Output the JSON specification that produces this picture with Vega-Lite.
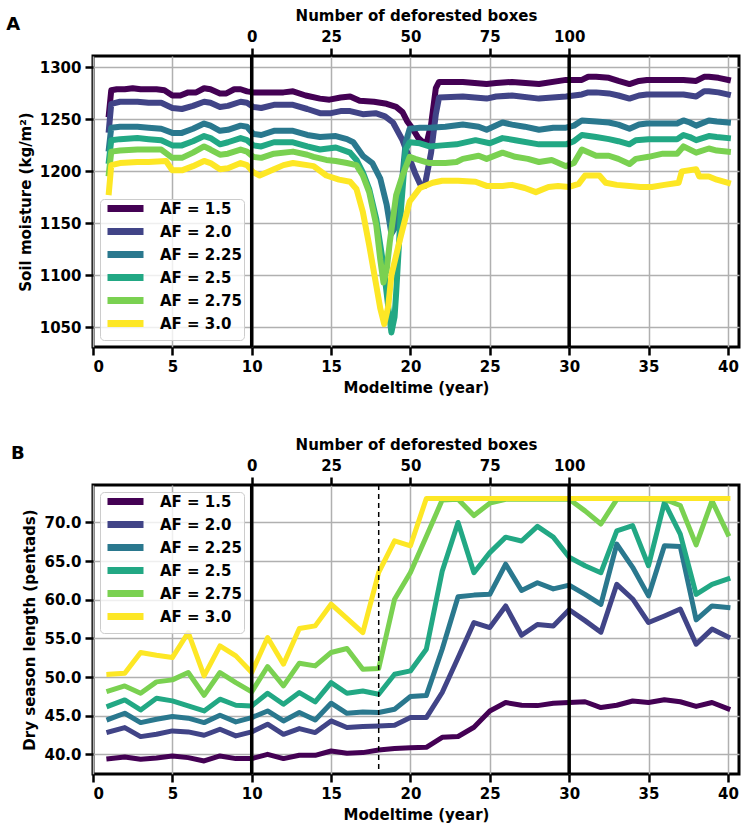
{
"$schema": "https://vega.github.io/schema/vega-lite/v6.json",
"background": "white",
"padding": {"left": 4, "top": 6, "right": 2, "bottom": 2},
"spacing": 38,
"config": {
  "font": "DejaVu Sans",
  "view": {"stroke": "black", "strokeWidth": 3},
  "axis": {"labelFont": "DejaVu Sans", "labelFontWeight": "bold", "labelFontSize": 15, "labelColor": "black",
           "titleFont": "DejaVu Sans", "titleFontWeight": "bold", "titleFontSize": 15, "titleColor": "black",
           "tickColor": "black", "tickWidth": 2.5, "tickSize": 8, "domain": false,
           "gridColor": "#b0b0b0", "gridWidth": 1.5, "labelPadding": 4, "titlePadding": 6},
  "title": {"font": "DejaVu Sans", "fontWeight": "bold", "fontSize": 18, "color": "black"}
},
"datasets": {
"soil": [
{"AF":"AF = 1.5","t":1.0,"v":1255},{"AF":"AF = 1.5","t":1.15,"v":1278},{"AF":"AF = 1.5","t":1.5,"v":1279},{"AF":"AF = 1.5","t":2.0,"v":1279},{"AF":"AF = 1.5","t":2.5,"v":1280},{"AF":"AF = 1.5","t":3.0,"v":1279},{"AF":"AF = 1.5","t":3.5,"v":1279},{"AF":"AF = 1.5","t":4.0,"v":1279},{"AF":"AF = 1.5","t":4.5,"v":1278},{"AF":"AF = 1.5","t":5.0,"v":1273},{"AF":"AF = 1.5","t":5.5,"v":1273},{"AF":"AF = 1.5","t":6.0,"v":1276},{"AF":"AF = 1.5","t":6.5,"v":1276},{"AF":"AF = 1.5","t":7.0,"v":1280},{"AF":"AF = 1.5","t":7.4,"v":1279},{"AF":"AF = 1.5","t":8.0,"v":1275},{"AF":"AF = 1.5","t":8.4,"v":1275},{"AF":"AF = 1.5","t":8.9,"v":1279},{"AF":"AF = 1.5","t":9.3,"v":1279},{"AF":"AF = 1.5","t":9.7,"v":1277},{"AF":"AF = 1.5","t":10.1,"v":1276},{"AF":"AF = 1.5","t":11.0,"v":1276},{"AF":"AF = 1.5","t":12.0,"v":1276},{"AF":"AF = 1.5","t":12.6,"v":1277},{"AF":"AF = 1.5","t":13.4,"v":1273},{"AF":"AF = 1.5","t":14.3,"v":1270},{"AF":"AF = 1.5","t":14.9,"v":1269},{"AF":"AF = 1.5","t":15.6,"v":1271},{"AF":"AF = 1.5","t":16.2,"v":1272},{"AF":"AF = 1.5","t":16.8,"v":1268},{"AF":"AF = 1.5","t":17.7,"v":1267},{"AF":"AF = 1.5","t":18.5,"v":1265},{"AF":"AF = 1.5","t":19.1,"v":1262},{"AF":"AF = 1.5","t":19.5,"v":1257},{"AF":"AF = 1.5","t":19.8,"v":1248},{"AF":"AF = 1.5","t":20.1,"v":1242},{"AF":"AF = 1.5","t":20.5,"v":1232},{"AF":"AF = 1.5","t":20.8,"v":1228},{"AF":"AF = 1.5","t":21.0,"v":1226},{"AF":"AF = 1.5","t":21.3,"v":1245},{"AF":"AF = 1.5","t":21.6,"v":1280},{"AF":"AF = 1.5","t":21.8,"v":1286},{"AF":"AF = 1.5","t":23.3,"v":1286},{"AF":"AF = 1.5","t":24.8,"v":1284},{"AF":"AF = 1.5","t":25.4,"v":1285},{"AF":"AF = 1.5","t":26.4,"v":1286},{"AF":"AF = 1.5","t":28.1,"v":1284},{"AF":"AF = 1.5","t":29.8,"v":1288},{"AF":"AF = 1.5","t":30.8,"v":1288},{"AF":"AF = 1.5","t":31.2,"v":1291},{"AF":"AF = 1.5","t":31.7,"v":1291},{"AF":"AF = 1.5","t":32.5,"v":1290},{"AF":"AF = 1.5","t":33.1,"v":1287},{"AF":"AF = 1.5","t":33.8,"v":1284},{"AF":"AF = 1.5","t":34.4,"v":1287},{"AF":"AF = 1.5","t":34.9,"v":1288},{"AF":"AF = 1.5","t":35.9,"v":1288},{"AF":"AF = 1.5","t":37.2,"v":1288},{"AF":"AF = 1.5","t":38.0,"v":1287},{"AF":"AF = 1.5","t":38.5,"v":1291},{"AF":"AF = 1.5","t":38.8,"v":1291},{"AF":"AF = 1.5","t":39.4,"v":1290},{"AF":"AF = 1.5","t":40.0,"v":1288},
{"AF":"AF = 2.0","t":1.0,"v":1240},{"AF":"AF = 2.0","t":1.15,"v":1265},{"AF":"AF = 2.0","t":1.7,"v":1267},{"AF":"AF = 2.0","t":2.8,"v":1267},{"AF":"AF = 2.0","t":3.5,"v":1266},{"AF":"AF = 2.0","t":4.3,"v":1266},{"AF":"AF = 2.0","t":5.0,"v":1261},{"AF":"AF = 2.0","t":5.6,"v":1260},{"AF":"AF = 2.0","t":6.3,"v":1263},{"AF":"AF = 2.0","t":7.0,"v":1267},{"AF":"AF = 2.0","t":7.4,"v":1266},{"AF":"AF = 2.0","t":8.0,"v":1262},{"AF":"AF = 2.0","t":8.5,"v":1263},{"AF":"AF = 2.0","t":9.3,"v":1267},{"AF":"AF = 2.0","t":9.7,"v":1266},{"AF":"AF = 2.0","t":10.1,"v":1262},{"AF":"AF = 2.0","t":10.6,"v":1261},{"AF":"AF = 2.0","t":11.4,"v":1264},{"AF":"AF = 2.0","t":12.6,"v":1264},{"AF":"AF = 2.0","t":13.5,"v":1260},{"AF":"AF = 2.0","t":14.3,"v":1256},{"AF":"AF = 2.0","t":15.0,"v":1256},{"AF":"AF = 2.0","t":15.6,"v":1258},{"AF":"AF = 2.0","t":16.2,"v":1258},{"AF":"AF = 2.0","t":17.0,"v":1255},{"AF":"AF = 2.0","t":17.8,"v":1256},{"AF":"AF = 2.0","t":18.4,"v":1253},{"AF":"AF = 2.0","t":18.9,"v":1247},{"AF":"AF = 2.0","t":19.5,"v":1230},{"AF":"AF = 2.0","t":19.95,"v":1212},{"AF":"AF = 2.0","t":20.3,"v":1198},{"AF":"AF = 2.0","t":20.6,"v":1188},{"AF":"AF = 2.0","t":20.9,"v":1186},{"AF":"AF = 2.0","t":21.3,"v":1218},{"AF":"AF = 2.0","t":21.6,"v":1255},{"AF":"AF = 2.0","t":21.8,"v":1271},{"AF":"AF = 2.0","t":23.3,"v":1272},{"AF":"AF = 2.0","t":24.8,"v":1270},{"AF":"AF = 2.0","t":25.4,"v":1272},{"AF":"AF = 2.0","t":26.4,"v":1273},{"AF":"AF = 2.0","t":28.1,"v":1270},{"AF":"AF = 2.0","t":29.8,"v":1272},{"AF":"AF = 2.0","t":30.8,"v":1274},{"AF":"AF = 2.0","t":31.2,"v":1276},{"AF":"AF = 2.0","t":31.7,"v":1276},{"AF":"AF = 2.0","t":32.5,"v":1275},{"AF":"AF = 2.0","t":33.1,"v":1273},{"AF":"AF = 2.0","t":33.8,"v":1270},{"AF":"AF = 2.0","t":34.4,"v":1273},{"AF":"AF = 2.0","t":34.9,"v":1274},{"AF":"AF = 2.0","t":35.9,"v":1274},{"AF":"AF = 2.0","t":37.2,"v":1274},{"AF":"AF = 2.0","t":38.0,"v":1272},{"AF":"AF = 2.0","t":38.5,"v":1277},{"AF":"AF = 2.0","t":38.8,"v":1277},{"AF":"AF = 2.0","t":39.4,"v":1276},{"AF":"AF = 2.0","t":40.0,"v":1274},
{"AF":"AF = 2.25","t":1.0,"v":1222},{"AF":"AF = 2.25","t":1.15,"v":1242},{"AF":"AF = 2.25","t":1.7,"v":1243},{"AF":"AF = 2.25","t":2.8,"v":1243},{"AF":"AF = 2.25","t":3.5,"v":1242},{"AF":"AF = 2.25","t":4.3,"v":1241},{"AF":"AF = 2.25","t":5.0,"v":1237},{"AF":"AF = 2.25","t":5.6,"v":1237},{"AF":"AF = 2.25","t":6.3,"v":1241},{"AF":"AF = 2.25","t":7.0,"v":1246},{"AF":"AF = 2.25","t":7.4,"v":1244},{"AF":"AF = 2.25","t":8.0,"v":1239},{"AF":"AF = 2.25","t":8.5,"v":1240},{"AF":"AF = 2.25","t":9.3,"v":1244},{"AF":"AF = 2.25","t":9.7,"v":1243},{"AF":"AF = 2.25","t":10.1,"v":1236},{"AF":"AF = 2.25","t":10.6,"v":1235},{"AF":"AF = 2.25","t":11.4,"v":1239},{"AF":"AF = 2.25","t":12.6,"v":1239},{"AF":"AF = 2.25","t":13.5,"v":1235},{"AF":"AF = 2.25","t":14.3,"v":1233},{"AF":"AF = 2.25","t":15.3,"v":1234},{"AF":"AF = 2.25","t":16.0,"v":1231},{"AF":"AF = 2.25","t":16.4,"v":1228},{"AF":"AF = 2.25","t":17.0,"v":1215},{"AF":"AF = 2.25","t":17.6,"v":1208},{"AF":"AF = 2.25","t":18.1,"v":1193},{"AF":"AF = 2.25","t":18.5,"v":1168},{"AF":"AF = 2.25","t":18.8,"v":1140},{"AF":"AF = 2.25","t":19.0,"v":1145},{"AF":"AF = 2.25","t":19.3,"v":1163},{"AF":"AF = 2.25","t":19.7,"v":1228},{"AF":"AF = 2.25","t":19.95,"v":1241},{"AF":"AF = 2.25","t":20.6,"v":1242},{"AF":"AF = 2.25","t":21.2,"v":1242},{"AF":"AF = 2.25","t":22.2,"v":1243},{"AF":"AF = 2.25","t":23.3,"v":1245},{"AF":"AF = 2.25","t":24.3,"v":1243},{"AF":"AF = 2.25","t":24.8,"v":1240},{"AF":"AF = 2.25","t":25.8,"v":1247},{"AF":"AF = 2.25","t":26.4,"v":1245},{"AF":"AF = 2.25","t":27.2,"v":1243},{"AF":"AF = 2.25","t":28.1,"v":1240},{"AF":"AF = 2.25","t":29.0,"v":1242},{"AF":"AF = 2.25","t":29.8,"v":1242},{"AF":"AF = 2.25","t":30.3,"v":1244},{"AF":"AF = 2.25","t":30.8,"v":1249},{"AF":"AF = 2.25","t":31.7,"v":1248},{"AF":"AF = 2.25","t":32.5,"v":1247},{"AF":"AF = 2.25","t":33.1,"v":1245},{"AF":"AF = 2.25","t":33.8,"v":1241},{"AF":"AF = 2.25","t":34.4,"v":1245},{"AF":"AF = 2.25","t":34.9,"v":1246},{"AF":"AF = 2.25","t":35.9,"v":1246},{"AF":"AF = 2.25","t":36.8,"v":1246},{"AF":"AF = 2.25","t":37.2,"v":1249},{"AF":"AF = 2.25","t":37.6,"v":1247},{"AF":"AF = 2.25","t":38.0,"v":1244},{"AF":"AF = 2.25","t":38.8,"v":1249},{"AF":"AF = 2.25","t":39.3,"v":1248},{"AF":"AF = 2.25","t":40.0,"v":1247},
{"AF":"AF = 2.5","t":1.0,"v":1210},{"AF":"AF = 2.5","t":1.15,"v":1230},{"AF":"AF = 2.5","t":1.7,"v":1231},{"AF":"AF = 2.5","t":2.8,"v":1232},{"AF":"AF = 2.5","t":3.5,"v":1231},{"AF":"AF = 2.5","t":4.3,"v":1230},{"AF":"AF = 2.5","t":5.0,"v":1225},{"AF":"AF = 2.5","t":5.6,"v":1225},{"AF":"AF = 2.5","t":6.3,"v":1229},{"AF":"AF = 2.5","t":7.0,"v":1234},{"AF":"AF = 2.5","t":7.4,"v":1232},{"AF":"AF = 2.5","t":8.0,"v":1226},{"AF":"AF = 2.5","t":8.5,"v":1228},{"AF":"AF = 2.5","t":9.3,"v":1232},{"AF":"AF = 2.5","t":9.7,"v":1230},{"AF":"AF = 2.5","t":10.1,"v":1225},{"AF":"AF = 2.5","t":10.6,"v":1224},{"AF":"AF = 2.5","t":11.4,"v":1228},{"AF":"AF = 2.5","t":12.6,"v":1228},{"AF":"AF = 2.5","t":13.5,"v":1224},{"AF":"AF = 2.5","t":14.3,"v":1221},{"AF":"AF = 2.5","t":15.3,"v":1223},{"AF":"AF = 2.5","t":16.2,"v":1218},{"AF":"AF = 2.5","t":16.6,"v":1211},{"AF":"AF = 2.5","t":17.0,"v":1199},{"AF":"AF = 2.5","t":17.4,"v":1183},{"AF":"AF = 2.5","t":17.85,"v":1154},{"AF":"AF = 2.5","t":18.3,"v":1109},{"AF":"AF = 2.5","t":18.6,"v":1070},{"AF":"AF = 2.5","t":18.8,"v":1045},{"AF":"AF = 2.5","t":19.0,"v":1060},{"AF":"AF = 2.5","t":19.1,"v":1083},{"AF":"AF = 2.5","t":19.4,"v":1163},{"AF":"AF = 2.5","t":19.7,"v":1221},{"AF":"AF = 2.5","t":19.95,"v":1228},{"AF":"AF = 2.5","t":20.6,"v":1227},{"AF":"AF = 2.5","t":21.2,"v":1224},{"AF":"AF = 2.5","t":22.0,"v":1225},{"AF":"AF = 2.5","t":22.9,"v":1226},{"AF":"AF = 2.5","t":24.1,"v":1230},{"AF":"AF = 2.5","t":25.0,"v":1227},{"AF":"AF = 2.5","t":25.8,"v":1232},{"AF":"AF = 2.5","t":26.6,"v":1230},{"AF":"AF = 2.5","t":28.1,"v":1226},{"AF":"AF = 2.5","t":29.8,"v":1226},{"AF":"AF = 2.5","t":30.3,"v":1229},{"AF":"AF = 2.5","t":30.8,"v":1235},{"AF":"AF = 2.5","t":31.7,"v":1233},{"AF":"AF = 2.5","t":32.5,"v":1231},{"AF":"AF = 2.5","t":33.1,"v":1229},{"AF":"AF = 2.5","t":33.8,"v":1226},{"AF":"AF = 2.5","t":34.2,"v":1230},{"AF":"AF = 2.5","t":35.0,"v":1231},{"AF":"AF = 2.5","t":35.9,"v":1231},{"AF":"AF = 2.5","t":36.8,"v":1231},{"AF":"AF = 2.5","t":37.2,"v":1235},{"AF":"AF = 2.5","t":37.6,"v":1233},{"AF":"AF = 2.5","t":38.0,"v":1230},{"AF":"AF = 2.5","t":38.8,"v":1234},{"AF":"AF = 2.5","t":39.3,"v":1233},{"AF":"AF = 2.5","t":40.0,"v":1232},
{"AF":"AF = 2.75","t":1.0,"v":1198},{"AF":"AF = 2.75","t":1.15,"v":1219},{"AF":"AF = 2.75","t":1.7,"v":1220},{"AF":"AF = 2.75","t":2.8,"v":1221},{"AF":"AF = 2.75","t":3.5,"v":1221},{"AF":"AF = 2.75","t":4.3,"v":1221},{"AF":"AF = 2.75","t":5.0,"v":1213},{"AF":"AF = 2.75","t":5.6,"v":1213},{"AF":"AF = 2.75","t":6.3,"v":1218},{"AF":"AF = 2.75","t":7.0,"v":1224},{"AF":"AF = 2.75","t":7.4,"v":1221},{"AF":"AF = 2.75","t":8.0,"v":1216},{"AF":"AF = 2.75","t":8.5,"v":1217},{"AF":"AF = 2.75","t":9.3,"v":1221},{"AF":"AF = 2.75","t":9.7,"v":1219},{"AF":"AF = 2.75","t":10.1,"v":1214},{"AF":"AF = 2.75","t":10.6,"v":1213},{"AF":"AF = 2.75","t":11.4,"v":1217},{"AF":"AF = 2.75","t":12.6,"v":1219},{"AF":"AF = 2.75","t":13.5,"v":1216},{"AF":"AF = 2.75","t":13.9,"v":1214},{"AF":"AF = 2.75","t":14.7,"v":1211},{"AF":"AF = 2.75","t":15.3,"v":1210},{"AF":"AF = 2.75","t":16.0,"v":1208},{"AF":"AF = 2.75","t":16.6,"v":1206},{"AF":"AF = 2.75","t":17.0,"v":1196},{"AF":"AF = 2.75","t":17.4,"v":1180},{"AF":"AF = 2.75","t":17.85,"v":1148},{"AF":"AF = 2.75","t":18.1,"v":1115},{"AF":"AF = 2.75","t":18.3,"v":1093},{"AF":"AF = 2.75","t":18.5,"v":1105},{"AF":"AF = 2.75","t":18.7,"v":1132},{"AF":"AF = 2.75","t":19.1,"v":1177},{"AF":"AF = 2.75","t":19.5,"v":1196},{"AF":"AF = 2.75","t":19.95,"v":1214},{"AF":"AF = 2.75","t":20.3,"v":1212},{"AF":"AF = 2.75","t":21.2,"v":1208},{"AF":"AF = 2.75","t":22.2,"v":1208},{"AF":"AF = 2.75","t":22.9,"v":1209},{"AF":"AF = 2.75","t":23.3,"v":1212},{"AF":"AF = 2.75","t":24.3,"v":1215},{"AF":"AF = 2.75","t":24.8,"v":1212},{"AF":"AF = 2.75","t":25.8,"v":1218},{"AF":"AF = 2.75","t":26.6,"v":1214},{"AF":"AF = 2.75","t":27.4,"v":1212},{"AF":"AF = 2.75","t":28.1,"v":1209},{"AF":"AF = 2.75","t":28.9,"v":1211},{"AF":"AF = 2.75","t":29.8,"v":1205},{"AF":"AF = 2.75","t":30.3,"v":1208},{"AF":"AF = 2.75","t":30.8,"v":1221},{"AF":"AF = 2.75","t":31.7,"v":1215},{"AF":"AF = 2.75","t":32.5,"v":1215},{"AF":"AF = 2.75","t":33.1,"v":1212},{"AF":"AF = 2.75","t":33.8,"v":1207},{"AF":"AF = 2.75","t":34.2,"v":1212},{"AF":"AF = 2.75","t":35.0,"v":1214},{"AF":"AF = 2.75","t":35.9,"v":1217},{"AF":"AF = 2.75","t":36.8,"v":1217},{"AF":"AF = 2.75","t":37.2,"v":1224},{"AF":"AF = 2.75","t":38.0,"v":1218},{"AF":"AF = 2.75","t":38.8,"v":1222},{"AF":"AF = 2.75","t":39.3,"v":1220},{"AF":"AF = 2.75","t":40.0,"v":1219},
{"AF":"AF = 3.0","t":1.0,"v":1180},{"AF":"AF = 3.0","t":1.15,"v":1206},{"AF":"AF = 3.0","t":1.7,"v":1208},{"AF":"AF = 3.0","t":2.8,"v":1209},{"AF":"AF = 3.0","t":3.5,"v":1209},{"AF":"AF = 3.0","t":4.6,"v":1210},{"AF":"AF = 3.0","t":5.0,"v":1201},{"AF":"AF = 3.0","t":5.6,"v":1201},{"AF":"AF = 3.0","t":6.3,"v":1205},{"AF":"AF = 3.0","t":7.0,"v":1210},{"AF":"AF = 3.0","t":7.4,"v":1208},{"AF":"AF = 3.0","t":8.0,"v":1202},{"AF":"AF = 3.0","t":8.5,"v":1203},{"AF":"AF = 3.0","t":9.3,"v":1208},{"AF":"AF = 3.0","t":9.7,"v":1206},{"AF":"AF = 3.0","t":10.1,"v":1199},{"AF":"AF = 3.0","t":10.5,"v":1196},{"AF":"AF = 3.0","t":11.4,"v":1202},{"AF":"AF = 3.0","t":12.0,"v":1206},{"AF":"AF = 3.0","t":12.6,"v":1208},{"AF":"AF = 3.0","t":13.5,"v":1206},{"AF":"AF = 3.0","t":13.9,"v":1205},{"AF":"AF = 3.0","t":14.7,"v":1196},{"AF":"AF = 3.0","t":15.5,"v":1192},{"AF":"AF = 3.0","t":16.2,"v":1190},{"AF":"AF = 3.0","t":16.6,"v":1183},{"AF":"AF = 3.0","t":17.0,"v":1161},{"AF":"AF = 3.0","t":17.4,"v":1129},{"AF":"AF = 3.0","t":17.85,"v":1090},{"AF":"AF = 3.0","t":18.1,"v":1068},{"AF":"AF = 3.0","t":18.35,"v":1053},{"AF":"AF = 3.0","t":18.6,"v":1070},{"AF":"AF = 3.0","t":18.8,"v":1100},{"AF":"AF = 3.0","t":19.3,"v":1132},{"AF":"AF = 3.0","t":19.95,"v":1171},{"AF":"AF = 3.0","t":20.6,"v":1184},{"AF":"AF = 3.0","t":21.4,"v":1189},{"AF":"AF = 3.0","t":22.0,"v":1191},{"AF":"AF = 3.0","t":23.0,"v":1191},{"AF":"AF = 3.0","t":24.1,"v":1190},{"AF":"AF = 3.0","t":24.8,"v":1186},{"AF":"AF = 3.0","t":25.8,"v":1186},{"AF":"AF = 3.0","t":26.4,"v":1187},{"AF":"AF = 3.0","t":27.2,"v":1184},{"AF":"AF = 3.0","t":27.9,"v":1180},{"AF":"AF = 3.0","t":28.7,"v":1185},{"AF":"AF = 3.0","t":29.3,"v":1186},{"AF":"AF = 3.0","t":30.0,"v":1185},{"AF":"AF = 3.0","t":30.6,"v":1188},{"AF":"AF = 3.0","t":31.0,"v":1196},{"AF":"AF = 3.0","t":31.9,"v":1196},{"AF":"AF = 3.0","t":32.3,"v":1189},{"AF":"AF = 3.0","t":33.0,"v":1187},{"AF":"AF = 3.0","t":33.8,"v":1186},{"AF":"AF = 3.0","t":34.5,"v":1185},{"AF":"AF = 3.0","t":35.2,"v":1185},{"AF":"AF = 3.0","t":36.0,"v":1187},{"AF":"AF = 3.0","t":36.9,"v":1189},{"AF":"AF = 3.0","t":37.1,"v":1200},{"AF":"AF = 3.0","t":38.0,"v":1202},{"AF":"AF = 3.0","t":38.2,"v":1195},{"AF":"AF = 3.0","t":38.8,"v":1195},{"AF":"AF = 3.0","t":39.3,"v":1192},{"AF":"AF = 3.0","t":40.0,"v":1189}
],
"dry": [
{"AF":"AF = 1.5","t":1,"v":39.44},{"AF":"AF = 1.5","t":2,"v":39.66},{"AF":"AF = 1.5","t":3,"v":39.36},{"AF":"AF = 1.5","t":4,"v":39.53},{"AF":"AF = 1.5","t":5,"v":39.79},{"AF":"AF = 1.5","t":6,"v":39.57},{"AF":"AF = 1.5","t":7,"v":39.14},{"AF":"AF = 1.5","t":8,"v":39.79},{"AF":"AF = 1.5","t":9,"v":39.44},{"AF":"AF = 1.5","t":10,"v":39.44},{"AF":"AF = 1.5","t":11,"v":40.0},{"AF":"AF = 1.5","t":12,"v":39.44},{"AF":"AF = 1.5","t":13,"v":39.87},{"AF":"AF = 1.5","t":14,"v":39.87},{"AF":"AF = 1.5","t":15,"v":40.43},{"AF":"AF = 1.5","t":16,"v":40.13},{"AF":"AF = 1.5","t":17,"v":40.22},{"AF":"AF = 1.5","t":18,"v":40.56},{"AF":"AF = 1.5","t":19,"v":40.74},{"AF":"AF = 1.5","t":20,"v":40.85},{"AF":"AF = 1.5","t":21,"v":40.9},{"AF":"AF = 1.5","t":22,"v":42.2},{"AF":"AF = 1.5","t":23,"v":42.3},{"AF":"AF = 1.5","t":24,"v":43.5},{"AF":"AF = 1.5","t":25,"v":45.6},{"AF":"AF = 1.5","t":26,"v":46.7},{"AF":"AF = 1.5","t":27,"v":46.35},{"AF":"AF = 1.5","t":28,"v":46.3},{"AF":"AF = 1.5","t":29,"v":46.6},{"AF":"AF = 1.5","t":30,"v":46.7},{"AF":"AF = 1.5","t":31,"v":46.8},{"AF":"AF = 1.5","t":32,"v":46.05},{"AF":"AF = 1.5","t":33,"v":46.35},{"AF":"AF = 1.5","t":34,"v":46.9},{"AF":"AF = 1.5","t":35,"v":46.7},{"AF":"AF = 1.5","t":36,"v":47.05},{"AF":"AF = 1.5","t":37,"v":46.8},{"AF":"AF = 1.5","t":38,"v":46.2},{"AF":"AF = 1.5","t":39,"v":46.7},{"AF":"AF = 1.5","t":40,"v":45.9},
{"AF":"AF = 2.0","t":1,"v":42.9},{"AF":"AF = 2.0","t":2,"v":43.46},{"AF":"AF = 2.0","t":3,"v":42.29},{"AF":"AF = 2.0","t":4,"v":42.59},{"AF":"AF = 2.0","t":5,"v":43.03},{"AF":"AF = 2.0","t":6,"v":42.9},{"AF":"AF = 2.0","t":7,"v":42.46},{"AF":"AF = 2.0","t":8,"v":43.24},{"AF":"AF = 2.0","t":9,"v":42.38},{"AF":"AF = 2.0","t":10,"v":42.9},{"AF":"AF = 2.0","t":11,"v":43.89},{"AF":"AF = 2.0","t":12,"v":42.59},{"AF":"AF = 2.0","t":13,"v":43.33},{"AF":"AF = 2.0","t":14,"v":42.81},{"AF":"AF = 2.0","t":15,"v":44.32},{"AF":"AF = 2.0","t":16,"v":43.46},{"AF":"AF = 2.0","t":17,"v":43.59},{"AF":"AF = 2.0","t":18,"v":43.67},{"AF":"AF = 2.0","t":19,"v":43.76},{"AF":"AF = 2.0","t":20,"v":44.75},{"AF":"AF = 2.0","t":21,"v":44.75},{"AF":"AF = 2.0","t":22,"v":48.0},{"AF":"AF = 2.0","t":23,"v":52.5},{"AF":"AF = 2.0","t":24,"v":57.05},{"AF":"AF = 2.0","t":25,"v":56.4},{"AF":"AF = 2.0","t":26,"v":59.2},{"AF":"AF = 2.0","t":27,"v":55.4},{"AF":"AF = 2.0","t":28,"v":56.8},{"AF":"AF = 2.0","t":29,"v":56.6},{"AF":"AF = 2.0","t":30,"v":58.7},{"AF":"AF = 2.0","t":31,"v":57.3},{"AF":"AF = 2.0","t":32,"v":55.8},{"AF":"AF = 2.0","t":33,"v":62.0},{"AF":"AF = 2.0","t":34,"v":60.1},{"AF":"AF = 2.0","t":35,"v":57.05},{"AF":"AF = 2.0","t":36,"v":57.9},{"AF":"AF = 2.0","t":37,"v":58.8},{"AF":"AF = 2.0","t":38,"v":54.25},{"AF":"AF = 2.0","t":39,"v":56.2},{"AF":"AF = 2.0","t":40,"v":55.2},
{"AF":"AF = 2.25","t":1,"v":44.54},{"AF":"AF = 2.25","t":2,"v":45.31},{"AF":"AF = 2.25","t":3,"v":44.1},{"AF":"AF = 2.25","t":4,"v":44.54},{"AF":"AF = 2.25","t":5,"v":44.88},{"AF":"AF = 2.25","t":6,"v":44.67},{"AF":"AF = 2.25","t":7,"v":44.1},{"AF":"AF = 2.25","t":8,"v":45.05},{"AF":"AF = 2.25","t":9,"v":44.19},{"AF":"AF = 2.25","t":10,"v":44.75},{"AF":"AF = 2.25","t":11,"v":45.61},{"AF":"AF = 2.25","t":12,"v":44.32},{"AF":"AF = 2.25","t":13,"v":45.4},{"AF":"AF = 2.25","t":14,"v":44.45},{"AF":"AF = 2.25","t":15,"v":46.61},{"AF":"AF = 2.25","t":16,"v":45.31},{"AF":"AF = 2.25","t":17,"v":45.48},{"AF":"AF = 2.25","t":18,"v":45.4},{"AF":"AF = 2.25","t":19,"v":45.83},{"AF":"AF = 2.25","t":20,"v":47.47},{"AF":"AF = 2.25","t":21,"v":47.6},{"AF":"AF = 2.25","t":22,"v":53.6},{"AF":"AF = 2.25","t":23,"v":60.4},{"AF":"AF = 2.25","t":24,"v":60.6},{"AF":"AF = 2.25","t":25,"v":60.7},{"AF":"AF = 2.25","t":26,"v":64.6},{"AF":"AF = 2.25","t":27,"v":61.2},{"AF":"AF = 2.25","t":28,"v":62.2},{"AF":"AF = 2.25","t":29,"v":61.4},{"AF":"AF = 2.25","t":30,"v":61.9},{"AF":"AF = 2.25","t":31,"v":60.7},{"AF":"AF = 2.25","t":32,"v":59.4},{"AF":"AF = 2.25","t":33,"v":67.2},{"AF":"AF = 2.25","t":34,"v":64.2},{"AF":"AF = 2.25","t":35,"v":60.5},{"AF":"AF = 2.25","t":36,"v":67.0},{"AF":"AF = 2.25","t":37,"v":66.9},{"AF":"AF = 2.25","t":38,"v":57.4},{"AF":"AF = 2.25","t":39,"v":59.2},{"AF":"AF = 2.25","t":40,"v":59.0},
{"AF":"AF = 2.5","t":1,"v":46.26},{"AF":"AF = 2.5","t":2,"v":47.04},{"AF":"AF = 2.5","t":3,"v":45.74},{"AF":"AF = 2.5","t":4,"v":47.25},{"AF":"AF = 2.5","t":5,"v":46.91},{"AF":"AF = 2.5","t":6,"v":46.26},{"AF":"AF = 2.5","t":7,"v":45.61},{"AF":"AF = 2.5","t":8,"v":47.13},{"AF":"AF = 2.5","t":9,"v":46.35},{"AF":"AF = 2.5","t":10,"v":46.26},{"AF":"AF = 2.5","t":11,"v":47.9},{"AF":"AF = 2.5","t":12,"v":46.48},{"AF":"AF = 2.5","t":13,"v":47.99},{"AF":"AF = 2.5","t":14,"v":46.78},{"AF":"AF = 2.5","t":15,"v":49.28},{"AF":"AF = 2.5","t":16,"v":47.9},{"AF":"AF = 2.5","t":17,"v":48.2},{"AF":"AF = 2.5","t":18,"v":47.77},{"AF":"AF = 2.5","t":19,"v":50.36},{"AF":"AF = 2.5","t":20,"v":50.79},{"AF":"AF = 2.5","t":21,"v":53.6},{"AF":"AF = 2.5","t":22,"v":63.7},{"AF":"AF = 2.5","t":23,"v":70.0},{"AF":"AF = 2.5","t":24,"v":63.5},{"AF":"AF = 2.5","t":25,"v":66.1},{"AF":"AF = 2.5","t":26,"v":68.1},{"AF":"AF = 2.5","t":27,"v":67.6},{"AF":"AF = 2.5","t":28,"v":69.5},{"AF":"AF = 2.5","t":29,"v":68.1},{"AF":"AF = 2.5","t":30,"v":65.5},{"AF":"AF = 2.5","t":31,"v":64.4},{"AF":"AF = 2.5","t":32,"v":63.5},{"AF":"AF = 2.5","t":33,"v":68.9},{"AF":"AF = 2.5","t":34,"v":69.6},{"AF":"AF = 2.5","t":35,"v":64.4},{"AF":"AF = 2.5","t":36,"v":72.6},{"AF":"AF = 2.5","t":37,"v":68.5},{"AF":"AF = 2.5","t":38,"v":60.7},{"AF":"AF = 2.5","t":39,"v":62.0},{"AF":"AF = 2.5","t":40,"v":62.7},
{"AF":"AF = 2.75","t":1,"v":48.2},{"AF":"AF = 2.75","t":2,"v":48.85},{"AF":"AF = 2.75","t":3,"v":47.9},{"AF":"AF = 2.75","t":4,"v":49.37},{"AF":"AF = 2.75","t":5,"v":49.63},{"AF":"AF = 2.75","t":6,"v":50.58},{"AF":"AF = 2.75","t":7,"v":47.64},{"AF":"AF = 2.75","t":8,"v":50.58},{"AF":"AF = 2.75","t":9,"v":49.28},{"AF":"AF = 2.75","t":10,"v":48.07},{"AF":"AF = 2.75","t":11,"v":51.36},{"AF":"AF = 2.75","t":12,"v":48.85},{"AF":"AF = 2.75","t":13,"v":51.79},{"AF":"AF = 2.75","t":14,"v":51.44},{"AF":"AF = 2.75","t":15,"v":53.17},{"AF":"AF = 2.75","t":16,"v":53.69},{"AF":"AF = 2.75","t":17,"v":51.01},{"AF":"AF = 2.75","t":18,"v":51.1},{"AF":"AF = 2.75","t":19,"v":60.07},{"AF":"AF = 2.75","t":20,"v":63.53},{"AF":"AF = 2.75","t":21,"v":68.2},{"AF":"AF = 2.75","t":22,"v":72.9},{"AF":"AF = 2.75","t":23,"v":73.0},{"AF":"AF = 2.75","t":24,"v":70.9},{"AF":"AF = 2.75","t":25,"v":72.5},{"AF":"AF = 2.75","t":26,"v":73.0},{"AF":"AF = 2.75","t":27,"v":73.0},{"AF":"AF = 2.75","t":28,"v":73.0},{"AF":"AF = 2.75","t":29,"v":73.0},{"AF":"AF = 2.75","t":30,"v":73.0},{"AF":"AF = 2.75","t":31,"v":71.5},{"AF":"AF = 2.75","t":32,"v":69.8},{"AF":"AF = 2.75","t":33,"v":73.0},{"AF":"AF = 2.75","t":34,"v":73.0},{"AF":"AF = 2.75","t":35,"v":73.0},{"AF":"AF = 2.75","t":36,"v":73.0},{"AF":"AF = 2.75","t":37,"v":72.2},{"AF":"AF = 2.75","t":38,"v":67.1},{"AF":"AF = 2.75","t":39,"v":72.8},{"AF":"AF = 2.75","t":40,"v":68.5},
{"AF":"AF = 3.0","t":1,"v":50.36},{"AF":"AF = 3.0","t":2,"v":50.49},{"AF":"AF = 3.0","t":3,"v":53.17},{"AF":"AF = 3.0","t":4,"v":52.82},{"AF":"AF = 3.0","t":5,"v":52.52},{"AF":"AF = 3.0","t":6,"v":55.76},{"AF":"AF = 3.0","t":7,"v":50.15},{"AF":"AF = 3.0","t":8,"v":54.03},{"AF":"AF = 3.0","t":9,"v":52.74},{"AF":"AF = 3.0","t":10,"v":50.58},{"AF":"AF = 3.0","t":11,"v":55.11},{"AF":"AF = 3.0","t":12,"v":51.66},{"AF":"AF = 3.0","t":13,"v":56.28},{"AF":"AF = 3.0","t":14,"v":56.62},{"AF":"AF = 3.0","t":15,"v":59.43},{"AF":"AF = 3.0","t":16,"v":57.6},{"AF":"AF = 3.0","t":17,"v":55.76},{"AF":"AF = 3.0","t":18,"v":63.53},{"AF":"AF = 3.0","t":19,"v":67.63},{"AF":"AF = 3.0","t":20,"v":66.98},{"AF":"AF = 3.0","t":21,"v":73.1},{"AF":"AF = 3.0","t":22,"v":73.1},{"AF":"AF = 3.0","t":23,"v":73.1},{"AF":"AF = 3.0","t":24,"v":73.1},{"AF":"AF = 3.0","t":25,"v":73.1},{"AF":"AF = 3.0","t":26,"v":73.1},{"AF":"AF = 3.0","t":27,"v":73.1},{"AF":"AF = 3.0","t":28,"v":73.1},{"AF":"AF = 3.0","t":29,"v":73.1},{"AF":"AF = 3.0","t":30,"v":73.1},{"AF":"AF = 3.0","t":31,"v":73.1},{"AF":"AF = 3.0","t":32,"v":73.1},{"AF":"AF = 3.0","t":33,"v":73.1},{"AF":"AF = 3.0","t":34,"v":73.1},{"AF":"AF = 3.0","t":35,"v":73.1},{"AF":"AF = 3.0","t":36,"v":73.1},{"AF":"AF = 3.0","t":37,"v":73.1},{"AF":"AF = 3.0","t":38,"v":73.1},{"AF":"AF = 3.0","t":39,"v":73.1},{"AF":"AF = 3.0","t":40,"v":73.1}
],
"marks": [{"t": 10}, {"t": 30}],
"dash": [{"t": 18}]
},
"vconcat": [
{
  "width": 646, "height": 291,
  "title": {"text": "A", "anchor": "start", "frame": "bounds", "offset": -26, "dx": -12},
  "layer": [
    {"data": {"name": "soil"},
     "mark": {"type": "line", "strokeWidth": 6, "strokeJoin": "round", "strokeCap": "square"},
     "encoding": {
       "x": {"field": "t", "type": "quantitative", "scale": {"domain": [0, 40.7], "nice": false, "zero": false},
             "axis": {"orient": "bottom", "values": [0,5,10,15,20,25,30,35,40], "title": "Modeltime (year)", "grid": true}},
       "y": {"field": "v", "type": "quantitative", "scale": {"domain": [1031, 1311], "nice": false, "zero": false},
             "axis": {"values": [1050,1100,1150,1200,1250,1300], "format": "d", "title": "Soil moisture (kg/m²)", "grid": true}},
       "color": {"field": "AF", "type": "nominal",
                 "scale": {"domain": ["AF = 1.5","AF = 2.0","AF = 2.25","AF = 2.5","AF = 2.75","AF = 3.0"],
                           "range": ["#440154","#414487","#2a788e","#22a884","#7ad151","#fde725"]},
                 "legend": {"orient": "bottom-left", "title": null, "symbolType": "M-9,0H9", "symbolSize": 16, "symbolStrokeWidth": 7, "symbolOffset": 16,
                            "labelFont": "DejaVu Sans", "labelFontSize": 15, "labelFontWeight": "bold", "labelColor": "black",
                            "fillColor": "rgba(255,255,255,0.8)", "strokeColor": "#cccccc", "cornerRadius": 4,
                            "padding": 2, "rowPadding": -6, "labelOffset": 27, "offset": 7}}
     }},
    {"data": {"name": "marks"},
     "mark": {"type": "rule", "strokeWidth": 3.5, "color": "black"},
     "encoding": {
       "x": {"field": "t", "type": "quantitative",
             "axis": {"orient": "top", "values": [10,15,20,25,30], "labelExpr": "(datum.value - 10) * 5", "title": "Number of deforested boxes", "grid": false}}
     }}
  ],
  "resolve": {"axis": {"x": "independent"}}
},
{
  "width": 646, "height": 289,
  "title": {"text": "B", "anchor": "start", "frame": "bounds", "offset": -26, "dx": -12},
  "layer": [
    {"data": {"name": "dry"},
     "mark": {"type": "line", "strokeWidth": 5, "strokeJoin": "round", "strokeCap": "square"},
     "encoding": {
       "x": {"field": "t", "type": "quantitative", "scale": {"domain": [0, 40.7], "nice": false, "zero": false},
             "axis": {"orient": "bottom", "values": [0,5,10,15,20,25,30,35,40], "title": "Modeltime (year)", "grid": true}},
       "y": {"field": "v", "type": "quantitative", "scale": {"domain": [37.45, 74.85], "nice": false, "zero": false},
             "axis": {"values": [40,45,50,55,60,65,70], "format": ".1f", "title": "Dry season length (pentads)", "grid": true}},
       "color": {"field": "AF", "type": "nominal",
                 "scale": {"domain": ["AF = 1.5","AF = 2.0","AF = 2.25","AF = 2.5","AF = 2.75","AF = 3.0"],
                           "range": ["#440154","#414487","#2a788e","#22a884","#7ad151","#fde725"]},
                 "legend": {"orient": "top-left", "title": null, "symbolType": "M-9,0H9", "symbolSize": 16, "symbolStrokeWidth": 7, "symbolOffset": 16,
                            "labelFont": "DejaVu Sans", "labelFontSize": 15, "labelFontWeight": "bold", "labelColor": "black",
                            "fillColor": "rgba(255,255,255,0.8)", "strokeColor": "#cccccc", "cornerRadius": 4,
                            "padding": 2, "rowPadding": -6, "labelOffset": 27, "offset": 7}}
     }},
    {"data": {"name": "marks"},
     "mark": {"type": "rule", "strokeWidth": 3.5, "color": "black"},
     "encoding": {
       "x": {"field": "t", "type": "quantitative",
             "axis": {"orient": "top", "values": [10,15,20,25,30], "labelExpr": "(datum.value - 10) * 5", "title": "Number of deforested boxes", "grid": false}}
     }},
    {"data": {"name": "dash"},
     "mark": {"type": "rule", "strokeWidth": 1.5, "color": "black", "strokeDash": [5, 4]},
     "encoding": {"x": {"field": "t", "type": "quantitative", "axis": null}}}
  ],
  "resolve": {"axis": {"x": "independent"}}
}
]
}
